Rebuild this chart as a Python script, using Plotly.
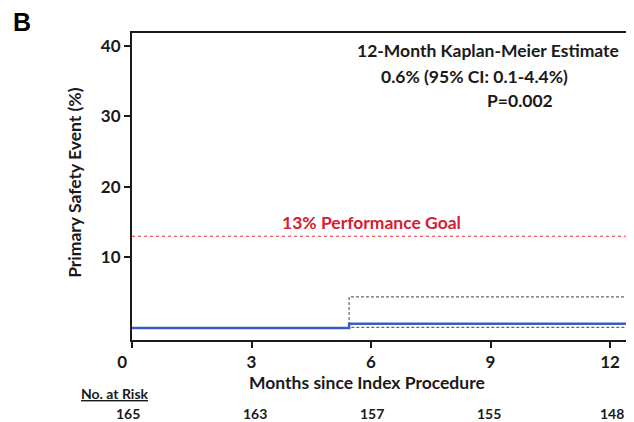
import plotly.graph_objects as go

# Kaplan-Meier curve (cumulative event %, months)
months = [0, 5.45, 12.45]
km_estimate = [0, 0.6, 0.6]
ci_lower = [0, 0.1, 0.1]
ci_upper = [0, 4.4, 4.4]

performance_goal = 13

x_ticks = [0, 3, 6, 9, 12]
x_ticklabels = ["0\u2007\u2007", "3", "6", "9", "12"]
y_ticks = [10, 20, 30, 40]
at_risk = [165, 163, 157, 155, 148]

FONT = "Lato"
BLACK = "#1a1a1a"

fig = go.Figure()

# confidence band limits
for ci in (ci_upper, ci_lower):
    fig.add_trace(go.Scatter(x=months, y=ci, mode="lines", line_shape="hv",
                             line=dict(color="#666666", width=1.2, dash="3px,2px"),
                             showlegend=False, hoverinfo="skip"))

fig.add_trace(go.Scatter(x=months, y=km_estimate, mode="lines", line_shape="hv",
                         line=dict(color="#3b5cc4", width=2.5),
                         showlegend=False))

# performance goal
fig.add_trace(go.Scatter(x=[0, 12.45], y=[performance_goal] * 2, mode="lines",
                         line=dict(color="#e8323c", width=1.2, dash="dot"),
                         showlegend=False, hoverinfo="skip"))
fig.add_annotation(x=6.0, y=15.0, showarrow=False,
                   text=f"<b>{performance_goal}% Performance Goal</b>",
                   font=dict(family=FONT, size=17.5, color="#d42030"))

# Kaplan-Meier estimate text
fig.add_annotation(x=12.27, y=39.3, xanchor="right", showarrow=False,
                   text="<b>12-Month Kaplan-Meier Estimate</b>",
                   font=dict(family=FONT, size=17.5, color=BLACK))
fig.add_annotation(x=8.6, y=35.6, xanchor="center", showarrow=False,
                   text="<b>0.6% (95% CI: 0.1-4.4%)</b>",
                   font=dict(family=FONT, size=17.5, color=BLACK))
fig.add_annotation(x=10.63, y=32.3, xanchor="right", showarrow=False,
                   text="<b>P=0.002</b>",
                   font=dict(family=FONT, size=17.5, color=BLACK))

# axis titles
fig.add_annotation(x=5.9, y=-0.137, xref="x", yref="paper", showarrow=False,
                   xanchor="center", yanchor="middle",
                   text="<b>Months since Index Procedure</b>",
                   font=dict(family=FONT, size=17.5, color=BLACK))
fig.add_annotation(x=-0.115, y=0.515, xref="paper", yref="paper", showarrow=False,
                   xanchor="center", yanchor="middle", textangle=-90,
                   text="<b>Primary Safety Event (%)</b>",
                   font=dict(family=FONT, size=17.5, color=BLACK))

# numbers at risk
fig.add_annotation(x=-0.034, y=-0.173, xref="paper", yref="paper", showarrow=False,
                   xanchor="center", yanchor="middle",
                   text="<b><u>No. at Risk</u></b>",
                   font=dict(family=FONT, size=14, color=BLACK))
risk_shift = [-4, 3, 1, -2, 2]
for t, n, s in zip(x_ticks, at_risk, risk_shift):
    fig.add_annotation(x=t, y=-0.238, xref="x", yref="paper", showarrow=False,
                       xanchor="center", yanchor="middle", xshift=s,
                       text=f"<b>{n}</b>",
                       font=dict(family=FONT, size=14, color=BLACK))

# panel letter
fig.add_annotation(x=-0.222, y=1.078, xref="paper", yref="paper", showarrow=False,
                   xanchor="center", yanchor="top", height=24, borderpad=0,
                   text="<b>B</b>",
                   font=dict(family="Liberation Sans", size=25, color="black"))

fig.update_xaxes(range=[0, 12.45], tickvals=x_ticks, ticktext=x_ticklabels,
                 ticks="outside", ticklen=6,
                 tickwidth=2, tickcolor=BLACK, showline=True, linewidth=2,
                 linecolor=BLACK, mirror=True, showgrid=False, zeroline=False,
                 automargin=False,
                 tickfont=dict(family=FONT, size=17, color=BLACK, weight="bold"))
fig.update_yaxes(range=[-1.7, 41.8], tickvals=y_ticks, ticks="outside", ticklen=6,
                 tickwidth=2, tickcolor=BLACK, showline=True, linewidth=2,
                 linecolor=BLACK, mirror=True, showgrid=False, zeroline=False,
                 automargin=False,
                 tickfont=dict(family=FONT, size=17, color=BLACK, weight="bold"))

# the page body adds an 8px offset, so the figure is 8px smaller than the window
fig.update_layout(width=626, height=414, plot_bgcolor="white", paper_bgcolor="white",
                  margin=dict(l=124, r=6, t=25, b=82),
                  font=dict(family=FONT, color=BLACK))

fig.write_html("out.html")
